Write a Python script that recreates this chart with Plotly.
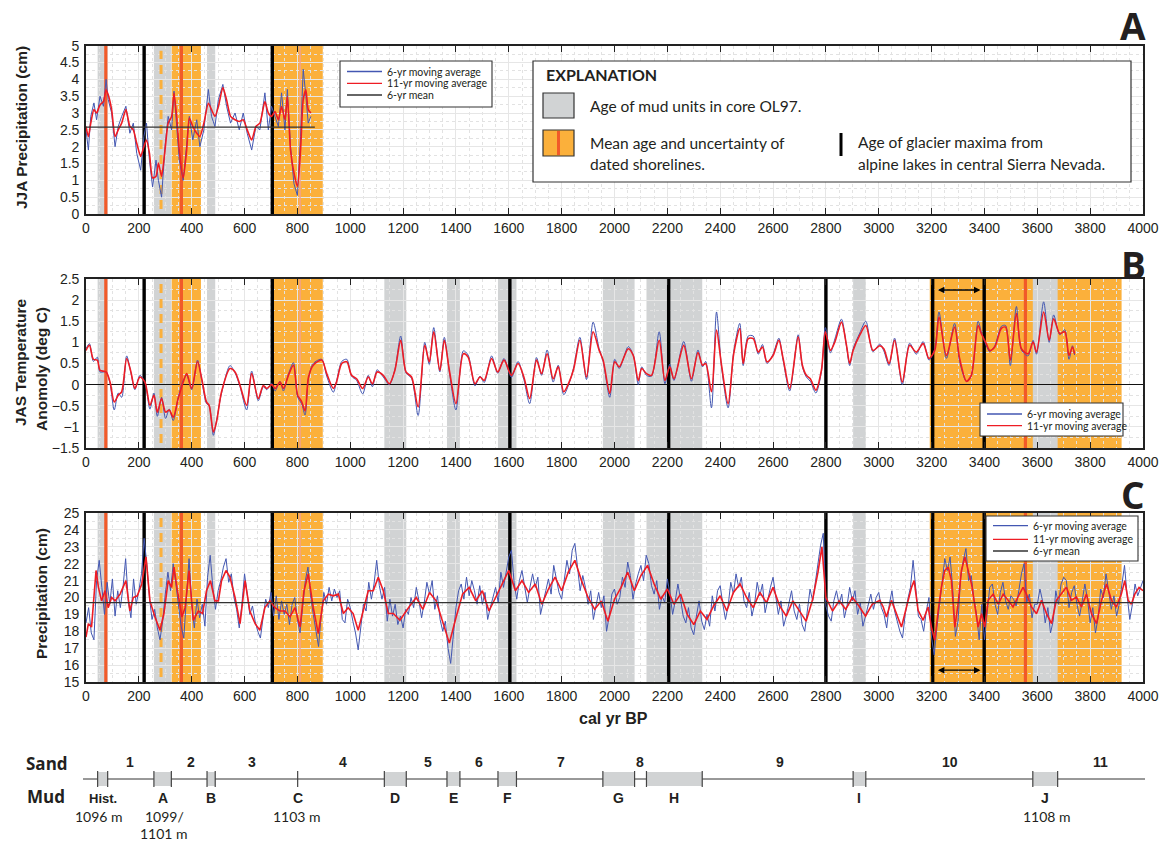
import plotly.graph_objects as go

# ---------------- DATA ----------------
# Panel A: JJA precipitation (cm)
years_A = [0, 9, 18, 30, 40, 53, 66, 76, 84, 97,
           110, 122, 135, 151, 166, 179, 192, 207, 219, 229,
           240, 252, 265, 274, 286, 299, 311, 324, 333, 343,
           353, 368, 381, 391, 404, 419, 431, 446, 463, 475,
           488, 501, 518, 532, 547, 564, 580, 595, 610, 627,
           643, 658, 677, 690, 702, 715, 728, 740, 753, 762,
           774, 787, 800, 812, 822, 832, 841, 851]
jja_6yr = [2.5, 1.9, 2.9, 3.3, 2.8, 3.5, 3.2, 4.0, 3.4, 3.0,
           2.0, 2.6, 2.9, 3.2, 2.4, 2.7, 1.8, 1.3, 2.3, 2.7,
           1.6, 0.8, 1.6, 1.0, 0.5, 2.0, 2.9, 2.5, 3.65, 2.6,
           1.6, 1.0, 2.2, 2.9, 2.2, 2.8, 2.0, 2.5, 3.7, 2.9,
           2.6, 3.4, 3.85, 3.2, 2.7, 3.0, 2.5, 3.0, 2.4, 1.9,
           2.6, 2.5, 3.6, 2.5, 3.2, 2.9, 2.6, 3.6, 2.5, 3.7,
           2.0, 0.9, 0.55, 2.3, 4.3, 3.5, 2.7, 2.9]
jja_11yr = [2.6, 2.3, 2.7, 3.1, 3.0, 3.24, 3.34, 3.69, 3.54, 3.1,
            2.3, 2.5, 2.7, 3.1, 2.6, 2.5, 2.1, 1.71, 2.0, 2.2,
            1.81, 1.07, 1.12, 1.51, 1.12, 1.9, 2.7, 2.9, 3.59, 2.9,
            1.9, 1.07, 1.9, 2.85, 2.6, 2.4, 2.3, 2.7, 3.29, 3.1,
            2.9, 3.19, 3.76, 3.39, 2.9, 2.8, 2.75, 2.8, 2.5, 2.2,
            2.6, 2.7, 3.34, 3.0, 2.9, 3.04, 2.8, 3.19, 2.8, 3.49,
            1.9, 1.22, 0.82, 1.9, 3.39, 3.69, 3.1, 3.0]
jja_mean = 2.58
jja_mean_span = [0, 866]
jja_range = [0, 5]

# Panel B: JAS temperature anomaly (deg C)
years_B = [0, 13, 28, 43, 53, 76, 91, 107, 122, 135,
           154, 170, 185, 204, 223, 242, 257, 270, 286, 301,
           315, 330, 349, 368, 381, 400, 422, 438, 456, 466,
           482, 494, 513, 545, 564, 583, 608, 627, 652, 671,
           684, 703, 716, 734, 747, 766, 785, 801, 816, 829,
           842, 860, 892, 911, 936, 948, 968, 987, 1005, 1024,
           1047, 1068, 1084, 1102, 1125, 1148, 1169, 1191, 1211, 1232,
           1257, 1282, 1299, 1316, 1339, 1356, 1375, 1400, 1428, 1446,
           1472, 1491, 1507, 1535, 1558, 1582, 1610, 1635, 1657, 1679,
           1705, 1724, 1745, 1768, 1787, 1808, 1831, 1846, 1869, 1894,
           1919, 1942, 1957, 1982, 2001, 2018, 2052, 2071, 2090, 2103,
           2121, 2140, 2169, 2191, 2209, 2225, 2262, 2291, 2316, 2333,
           2345, 2367, 2386, 2405, 2430, 2451, 2474, 2487, 2506, 2525,
           2544, 2560, 2577, 2600, 2622, 2638, 2663, 2695, 2711, 2726,
           2741, 2762, 2783, 2798, 2817, 2834, 2859, 2878, 2890, 2903,
           2928, 2951, 2978, 3004, 3019, 3039, 3060, 3089, 3117, 3142,
           3168, 3190, 3212, 3228, 3256, 3287, 3306, 3332, 3350, 3376,
           3388, 3407, 3420, 3439, 3464, 3480, 3498, 3521, 3540, 3565,
           3584, 3597, 3624, 3645, 3662, 3685, 3704, 3720, 3733, 3741]
jas_6yr = [0.85, 0.97, 0.55, 0.65, 0.3, 0.3, 0.02, -0.6, -0.2, -0.3,
           0.68, 0.28, -0.12, 0.22, 0.05, -0.58, -0.2, -0.75, -0.3, -0.8,
           -0.58, -0.85, -0.3, 0.1, 0.22, -0.12, 0.58, 0.1, -0.45, -0.5,
           -1.2, -0.85, -0.2, 0.45, 0.28, -0.05, -0.6, 0.32, -0.38, -0.05,
           -0.12, 0.03, -0.15, 0.08, -0.15, 0.25, 0.52, -0.3, -0.45, -0.72,
           0.15, 0.5, 0.6, 0.2, -0.18, 0.08, 0.55, 0.6, 0.2, 0.1,
           -0.22, 0.22, -0.05, 0.35, 0.18, 0.0, 0.36, 1.15, 0.28, 0.15,
           -0.73, 1.0, 0.48, 1.35, 0.3, 1.12, 0.3, -0.6, 0.8, 0.7,
           -0.03, 0.2, 0.05, 0.68, 0.27, 0.62, 0.17, 0.55, 0.12, -0.45,
           0.64, 0.22, 0.82, 0.06, 0.46, -0.24, 0.08, 0.42, 1.12, 0.12,
           1.48, 0.85, 0.55, -0.3, 0.6, 0.38, 0.9, 0.7, 0.0, 0.42,
           0.22, 0.2, 1.25, 0.02, 0.48, 0.1, 1.02, 0.08, 0.82, 0.42,
           0.55, -0.55, 1.72, 0.42, -0.55, 0.78, 1.45, 0.45, 1.15, 1.15,
           0.72, 0.95, 0.5, 0.72, 1.1, 0.58, -0.15, 1.18, 0.42, 0.18,
           0.08, -0.2, 0.3, 1.35, 0.75, 1.08, 1.55, 0.9, 0.45, 0.85,
           1.22, 1.5, 0.78, 0.96, 0.8, 0.45, 1.1, 0.0, 0.98, 0.72,
           1.02, 0.58, 0.85, 1.72, 0.62, 1.45, 0.55, 0.07, 0.2, 1.5,
           1.25, 0.92, 0.78, 0.92, 1.38, 1.4, 0.45, 1.85, 0.82, 0.68,
           1.05, 0.72, 1.96, 1.0, 1.65, 1.18, 1.3, 0.6, 0.92, 0.7]
jas_11yr = [0.81, 0.93, 0.6, 0.58, 0.34, 0.3, 0.06, -0.41, -0.25, -0.17,
            0.62, 0.3, -0.09, 0.18, 0.06, -0.49, -0.25, -0.65, -0.33, -0.65,
            -0.6, -0.77, -0.33, 0.06, 0.26, -0.09, 0.54, 0.14, -0.41, -0.49,
            -1.12, -0.88, -0.17, 0.38, 0.3, -0.02, -0.49, 0.26, -0.33, -0.02,
            -0.09, 0.0, -0.09, 0.06, -0.09, 0.22, 0.46, -0.25, -0.4, -0.62,
            0.18, 0.46, 0.58, 0.26, -0.09, 0.06, 0.5, 0.54, 0.22, 0.14,
            -0.09, 0.18, 0.02, 0.3, 0.22, 0.02, 0.34, 1.05, 0.3, 0.18,
            -0.53, 0.93, 0.54, 1.25, 0.34, 1.05, 0.34, -0.45, 0.73, 0.65,
            0.02, 0.18, 0.1, 0.62, 0.3, 0.58, 0.22, 0.5, 0.18, -0.33,
            0.58, 0.26, 0.73, 0.14, 0.42, -0.17, 0.1, 0.38, 1.05, 0.18,
            1.25, 0.81, 0.58, -0.21, 0.54, 0.42, 0.85, 0.69, 0.1, 0.38,
            0.26, 0.22, 1.05, 0.1, 0.42, 0.14, 0.93, 0.14, 0.76, 0.46,
            0.5, -0.17, 1.29, 0.46, -0.45, 0.73, 1.33, 0.5, 1.09, 1.09,
            0.77, 0.89, 0.54, 0.69, 1.05, 0.62, -0.09, 1.13, 0.46, 0.22,
            0.14, -0.13, 0.34, 1.25, 0.81, 1.01, 1.48, 0.93, 0.5, 0.81,
            1.17, 1.4, 0.81, 0.92, 0.85, 0.5, 1.05, 0.06, 0.93, 0.77,
            0.97, 0.62, 0.81, 1.6, 0.69, 1.36, 0.62, 0.08, 0.22, 1.4,
            1.21, 0.97, 0.81, 0.89, 1.33, 1.36, 0.58, 1.68, 0.85, 0.73,
            1.01, 0.77, 1.72, 1.05, 1.56, 1.21, 1.25, 0.69, 0.89, 0.73]
jas_range = [-1.5, 2.5]

# Panel C: precipitation (cm) - 6-yr moving average, read every 10 years
years_C6 = list(range(0, 4001, 10))
precip_6yr = [18.5, 19.4, 17.9, 17.5, 21.0, 22.2, 20.6, 19.0, 20.9, 19.6, 21.1, 18.9, 20.4, 19.4, 20.6, 22.3, 19.8, 18.8, 21.1, 19.6,
              20.4, 21.4, 23.5, 22.0, 20.0, 18.7, 19.3, 18.2, 17.5, 18.6, 20.2, 21.5, 20.4, 22.0, 20.8, 19.6, 18.3, 17.6, 20.3, 22.3,
              19.6, 18.2, 19.9, 18.8, 19.6, 18.3, 21.2, 22.5, 20.6, 19.3, 20.4, 21.0, 21.8, 22.3, 20.9, 21.4, 20.0, 19.3, 18.2, 19.6,
              21.4, 20.2, 19.0, 19.5, 18.6, 18.0, 17.6, 18.8, 19.9, 19.4, 20.3, 18.9, 20.1, 18.7, 19.8, 19.0, 19.6, 18.4, 19.6, 20.0,
              18.7, 17.9, 19.6, 21.0, 21.8, 20.1, 19.0, 18.0, 17.1, 18.9, 20.3, 19.6, 20.6, 19.8, 20.5, 20.0, 20.4, 18.7, 18.5, 19.9,
              19.4, 18.6, 17.9, 16.9, 18.4, 19.6, 19.2, 20.9, 19.9, 20.8, 22.2, 20.7, 19.9, 20.6, 18.6, 19.9, 18.9, 19.6, 18.4, 18.9,
              18.2, 19.3, 19.0, 20.0, 19.4, 20.6, 19.8, 18.8, 19.7, 20.9, 20.2, 21.0, 19.3, 20.1, 18.7, 18.0, 18.6, 17.0, 16.1, 17.8,
              19.4, 20.4, 20.8, 19.9, 21.2, 20.1, 21.0, 20.4, 19.6, 20.7, 19.6, 20.3, 18.7, 19.4, 20.1, 20.6, 19.7, 21.5, 20.6, 21.6,
              22.4, 22.8, 20.9, 19.9, 21.0, 21.6, 20.5, 19.7, 20.6, 21.4, 20.6, 21.2, 19.0, 19.8, 20.4, 21.1, 20.2, 21.9, 21.0, 20.3,
              19.9, 21.0, 22.2, 21.4, 22.8, 23.2, 21.6, 20.4, 21.3, 20.6, 19.6, 20.4, 18.7, 19.6, 20.3, 19.4, 20.1, 18.0, 18.9, 20.2,
              20.5, 19.6, 20.0, 21.2, 20.6, 22.1, 21.3, 19.9, 20.8, 21.4, 21.9, 21.0, 22.5, 22.0, 20.7, 20.2, 21.0, 19.3, 20.1, 19.7,
              21.1, 20.2, 19.0, 19.8, 20.8, 19.9, 18.9, 18.5, 19.4, 18.2, 17.8, 18.9, 19.8, 18.6, 18.1, 19.0, 18.3, 20.1, 19.2, 20.4,
              20.7, 19.6, 18.7, 19.5, 20.9, 20.2, 21.4, 20.6, 21.2, 19.8, 19.4, 20.3, 18.9, 19.6, 20.9, 20.1, 20.8, 19.1, 19.9, 20.6,
              21.2, 20.1, 19.0, 19.8, 18.3, 18.9, 19.7, 20.4, 19.2, 18.7, 19.6, 18.4, 18.0, 19.1, 20.5, 19.8, 21.0, 22.0, 23.1, 23.8,
              19.5, 18.9, 18.6, 19.8, 20.4, 19.6, 20.2, 18.8, 19.5, 20.6, 19.8, 20.4, 19.0, 19.7, 18.3, 18.9, 19.6, 20.2, 19.3, 20.0,
              20.3, 19.4, 19.0, 18.2, 19.6, 20.4, 19.2, 18.6, 18.0, 17.6, 19.0, 19.9, 20.6, 22.2, 20.4, 18.9, 18.7, 18.0, 19.2, 20.0,
              17.6, 16.6, 18.2, 19.7, 21.2, 22.3, 21.6, 22.4, 20.5, 17.7, 18.6, 21.2, 22.2, 22.9, 21.0, 21.3, 19.9, 19.0, 17.5, 19.6,
              17.5, 19.2, 20.6, 20.8, 19.6, 19.0, 20.3, 20.9, 19.8, 19.3, 20.1, 19.9, 19.5, 20.4, 21.4, 22.0, 19.7, 20.2, 18.8, 19.6,
              19.6, 20.5, 19.8, 18.5, 19.4, 17.9, 18.6, 20.4, 19.6, 20.8, 21.2, 21.0, 19.4, 20.3, 20.7, 19.6, 18.9, 19.8, 20.8, 19.9,
              18.5, 19.4, 17.9, 18.8, 20.5, 20.0, 21.4, 20.4, 19.3, 20.1, 18.9, 19.6, 20.8, 21.9, 20.1, 18.7, 19.6, 20.8, 20.1, 20.6,
              21.0]

# Panel C: 11-yr moving average
years_C11 = [0, 9, 21, 38, 47, 59, 72, 84, 97, 110,
             129, 151, 166, 179, 194, 211, 227, 242, 261, 280,
             295, 311, 324, 333, 346, 363, 375, 390, 406, 425,
             441, 456, 471, 488, 501, 513, 530, 545, 564, 583,
             602, 620, 640, 658, 677, 696, 715, 734, 753, 772,
             791, 810, 825, 841, 860, 879, 898, 917, 936, 955,
             974, 992, 1011, 1030, 1049, 1068, 1087, 1106, 1125, 1144,
             1163, 1188,
             1225, 1250, 1275, 1300, 1325, 1350, 1375, 1400, 1425, 1450,
             1475, 1500, 1525, 1550, 1575, 1600, 1625, 1650, 1675, 1700,
             1725, 1750, 1775, 1800, 1825, 1850, 1875, 1900, 1925, 1950,
             1975, 2000, 2025, 2050, 2075, 2100, 2125, 2150, 2175, 2200,
             2225, 2250, 2275, 2300, 2325, 2350, 2375, 2400, 2425, 2450,
             2475, 2500, 2525, 2550, 2575, 2600, 2625, 2650, 2675, 2700,
             2725, 2750, 2770, 2785, 2800, 2825, 2850, 2875, 2900, 2925,
             2950, 2975,
             3004, 3017, 3029, 3048, 3067, 3086, 3105, 3124, 3134, 3149,
             3168, 3187, 3199, 3212, 3225, 3237, 3250, 3263, 3275, 3288,
             3300, 3313, 3326, 3338, 3351, 3363, 3376, 3389, 3401, 3414,
             3433, 3452, 3471, 3490, 3508, 3527, 3546, 3559, 3578, 3597,
             3616, 3635, 3654, 3672, 3691, 3710, 3729, 3748, 3767, 3786,
             3805, 3824, 3843, 3862, 3881, 3899, 3918, 3931, 3944, 3956,
             3969, 3985, 4000]
precip_11yr = [17.66, 18.45, 18.25, 21.6, 20.6, 19.8, 20.4, 19.4, 20.0, 19.8,
               20.2, 21.0, 19.2, 20.0, 20.1, 20.8, 22.4, 19.8, 18.85, 18.06,
               19.05, 21.0, 20.6, 21.8, 20.4, 18.85, 19.4, 21.6, 18.65, 19.2,
               19.05, 20.4, 21.0, 19.8, 19.8, 21.0, 21.6, 21.2, 20.0, 18.45,
               21.0, 19.2, 18.45, 18.06, 19.4, 19.8, 19.4, 19.2, 19.2, 18.85,
               19.4, 18.25, 20.4, 21.4, 19.4, 17.86, 19.8, 20.2, 20.1, 20.2,
               19.05, 19.4, 19.05, 18.06, 19.2, 20.4, 20.4, 21.2, 20.4, 19.05,
               19.05, 18.65,
               19.5, 20.0, 19.3, 20.3, 19.8, 18.6, 17.3, 18.8, 20.2, 20.6,
               19.8, 20.4, 19.2, 20.0, 20.8, 21.6, 20.4, 21.0, 20.3, 20.8,
               19.6, 20.5, 21.2, 20.4, 21.5, 22.2, 21.0, 20.0, 19.3, 19.8,
               18.6, 19.9, 20.6, 21.5, 20.4, 21.3, 21.9, 20.8, 19.9, 20.5,
               19.6, 20.2, 19.0, 18.4, 19.2, 18.7, 19.5, 20.1, 19.2, 20.3,
               20.8, 20.0, 19.4, 20.3, 19.7, 20.6, 19.5, 18.9, 19.8, 19.2,
               18.6, 19.9, 21.5, 23.0, 20.0, 19.2, 19.8, 19.3, 20.0, 19.5,
               18.9, 19.6,
               19.83, 19.44, 18.85, 19.83, 19.04, 18.25, 19.44, 20.6, 21.0, 19.24,
               18.65, 19.44, 18.25, 17.47, 19.24, 20.6, 21.6, 21.8, 21.0, 18.25,
               19.6, 21.6, 22.4, 21.6, 20.8, 19.6, 18.25, 19.04, 18.25, 19.83,
               20.2, 19.6, 20.2, 19.83, 19.44, 20.03, 20.6, 20.2, 19.44, 19.04,
               19.83, 19.04, 18.45, 19.83, 20.2, 20.6, 19.83, 20.03, 19.44, 20.2,
               19.04, 18.45, 19.83, 20.8, 19.83, 19.44, 20.2, 21.0, 19.83, 19.6,
               20.2, 20.6, 20.4]
precip_mean = 19.7
precip_mean_span = [0, 4000]
precip_range = [15, 25]

# Event ages (cal yr BP)
mud_units = ["Hist.", "A", "B", "D", "E", "F", "G", "H", "I", "J"]
mud_start = [44, 257, 458, 1129, 1366, 1559, 1956, 2121, 2903, 3583]
mud_end = [82, 323, 489, 1212, 1415, 1629, 2076, 2332, 2951, 3677]
mud_C_age = 801
shore_lo = [324, 711, 3193]
shore_hi = [435, 896, 3919]
shore_mean = [75, 361, 3555]
shore_mean_faint = [810]
shore_dashed = [284]
glacier_max = [220, 705, 1604, 2205, 2800, 3204, 3399]
panelA_limit = 900

sand_units = ["1", "2", "3", "4", "5", "6", "7", "8", "9", "10", "11"]
sand_label_px = [130, 191, 252, 343, 428, 479, 561, 640, 780, 950, 1100]

legend_labels = ["6-yr moving average", "11-yr moving average", "6-yr mean"]

# ---------------- STYLE / LAYOUT ----------------
W, H = 1165, 841
def PX(v): return v / W
def PY(v): return 1 - v / H

BLUE = "#4357b2"
RED = "#ee1c24"
MEANC = "#333333"
ORANGE = "#fbb03b"
GRAY = "#d1d3d4"
SHORE = "#f15a29"
TXT = "#231f20"
XD = [PX(86), PX(1143)]
dom = {"A": [PY(214), PY(45.7)], "B": [PY(448), PY(279)], "C": [PY(682), PY(513)]}
tickfont = dict(family="Liberation Sans, Arial", size=14, color=TXT)

fig = go.Figure()

# event lines as traces (drawn above the grid, beneath the data)
panels = [("x", "y", jja_range, False), ("x2", "y2", jas_range, True), ("x3", "y3", precip_range, True)]

def vlines(xs, rng, xa, ya, color, width, dash=None, inset=0.0):
    xx, yy = [], []
    pad = (rng[1] - rng[0]) * inset
    for v in xs:
        xx += [v, v, None]
        yy += [rng[0] + pad, rng[1] - pad, None]
    if xx:
        fig.add_trace(go.Scatter(x=xx, y=yy, mode="lines", hoverinfo="skip", showlegend=False,
                                 line=dict(color=color, width=width, dash=dash), xaxis=xa, yaxis=ya))

for xa, ya, rng, full in panels:
    sel = lambda arr: [v for v in arr if full or v < panelA_limit]
    vlines(sel(shore_mean), rng, xa, ya, SHORE, 3.2)
    vlines(sel(shore_mean_faint), rng, xa, ya, "#f3a18c", 1.5)
    vlines(sel(shore_dashed), rng, xa, ya, ORANGE, 3, dash="9px,6px", inset=0.03)
    vlines(sel(glacier_max), rng, xa, ya, "black", 3.4)

# data traces
fig.add_trace(go.Scatter(x=years_A, y=jja_6yr, mode="lines", name=legend_labels[0],
                         line=dict(color=BLUE, width=1), xaxis="x", yaxis="y"))
fig.add_trace(go.Scatter(x=years_A, y=jja_11yr, mode="lines", name=legend_labels[1],
                         line=dict(color=RED, width=1.6, shape="spline", smoothing=0.6), xaxis="x", yaxis="y"))
fig.add_trace(go.Scatter(x=jja_mean_span, y=[jja_mean, jja_mean], mode="lines", name=legend_labels[2],
                         line=dict(color=MEANC, width=1.2), xaxis="x", yaxis="y"))

fig.add_trace(go.Scatter(x=years_B, y=jas_6yr, mode="lines", name=legend_labels[0],
                         line=dict(color=BLUE, width=1, shape="spline", smoothing=0.8),
                         xaxis="x2", yaxis="y2"))
fig.add_trace(go.Scatter(x=years_B, y=jas_11yr, mode="lines", name=legend_labels[1],
                         line=dict(color=RED, width=1.6, shape="spline", smoothing=0.8),
                         xaxis="x2", yaxis="y2"))

fig.add_trace(go.Scatter(x=years_C6, y=precip_6yr, mode="lines", name=legend_labels[0],
                         line=dict(color=BLUE, width=1), xaxis="x3", yaxis="y3"))
fig.add_trace(go.Scatter(x=years_C11, y=precip_11yr, mode="lines", name=legend_labels[1],
                         line=dict(color=RED, width=1.6), xaxis="x3", yaxis="y3"))
fig.add_trace(go.Scatter(x=precip_mean_span, y=[precip_mean, precip_mean], mode="lines", name=legend_labels[2],
                         line=dict(color=MEANC, width=1.2), xaxis="x3", yaxis="y3"))

# shapes: bands (below grid)
shapes = []
for xr, yr, full in [("x", "y domain", False), ("x2", "y2 domain", True), ("x3", "y3 domain", True)]:
    def keep(v):
        return full or v < panelA_limit
    for a, b in zip(shore_lo, shore_hi):
        if keep(a):
            shapes.append(dict(type="rect", xref=xr, yref=yr, x0=a, x1=b, y0=0, y1=1,
                               fillcolor=ORANGE, line=dict(width=0), layer="below"))
    for a, b in zip(mud_start, mud_end):
        if keep(a):
            shapes.append(dict(type="rect", xref=xr, yref=yr, x0=a, x1=b, y0=0, y1=1,
                               fillcolor=GRAY, line=dict(width=0), layer="below"))

# ---- sand / mud strip ----
strip_y = 779
shapes.append(dict(type="line", xref="paper", yref="paper", x0=PX(83), x1=PX(1145),
                   y0=PY(strip_y), y1=PY(strip_y), line=dict(color="#333", width=1)))
for a, b in zip(mud_start, mud_end):
    shapes.append(dict(type="rect", xref="x3", yref="paper", x0=a, x1=b, y0=PY(strip_y + 7),
                       y1=PY(strip_y - 7), fillcolor=GRAY, line=dict(width=0)))
    for e in (a, b):
        shapes.append(dict(type="line", xref="x3", yref="paper", x0=e, x1=e, y0=PY(strip_y + 8),
                           y1=PY(strip_y - 8), line=dict(color="#444", width=1.2)))
shapes.append(dict(type="line", xref="x3", yref="paper", x0=mud_C_age, x1=mud_C_age,
                   y0=PY(strip_y + 8), y1=PY(strip_y - 8), line=dict(color="#444", width=1.2)))

# ---- explanation box ----
shapes.append(dict(type="rect", xref="paper", yref="paper", x0=PX(533), x1=PX(1131), y0=PY(182), y1=PY(61),
                   fillcolor="white", line=dict(color="#333", width=1.2)))
shapes.append(dict(type="rect", xref="paper", yref="paper", x0=PX(543), x1=PX(574), y0=PY(118), y1=PY(93),
                   fillcolor=GRAY, line=dict(color="#333", width=1.2)))
shapes.append(dict(type="rect", xref="paper", yref="paper", x0=PX(543), x1=PX(574), y0=PY(156), y1=PY(130),
                   fillcolor=ORANGE, line=dict(color="#333", width=1.2)))
shapes.append(dict(type="line", xref="paper", yref="paper", x0=PX(558.5), x1=PX(558.5), y0=PY(155), y1=PY(131),
                   line=dict(color=SHORE, width=3)))
shapes.append(dict(type="line", xref="paper", yref="paper", x0=PX(841), x1=PX(841), y0=PY(156), y1=PY(133),
                   line=dict(color="black", width=3)))

annotations = []
def txt(x, y, s, size=14, bold=False, family="Lato", anchor="center", angle=0, color=TXT):
    annotations.append(dict(xref="paper", yref="paper", x=PX(x), y=PY(y), text=f"<b>{s}</b>" if bold else s,
                            showarrow=False, xanchor=anchor, yanchor="middle", textangle=angle,
                            font=dict(family=family, size=size, color=color)))

# ---- manual legends (box, line samples, labels) ----
def legend_box(x0, y0, x1, y1, lx0, lx1, tx, ys, n):
    shapes.append(dict(type="rect", xref="paper", yref="paper", x0=PX(x0), x1=PX(x1), y0=PY(y1), y1=PY(y0),
                       fillcolor="white", line=dict(color="#333", width=1.1)))
    cols = [BLUE, RED, MEANC]
    for i in range(n):
        shapes.append(dict(type="line", xref="paper", yref="paper", x0=PX(lx0), x1=PX(lx1),
                           y0=PY(ys[i]), y1=PY(ys[i]), line=dict(color=cols[i], width=1.3)))
        txt(tx, ys[i], legend_labels[i], size=10.5, family="Lato", anchor="left")

legend_box(340, 61, 492, 107, 347, 382, 385, [71.5, 83.3, 95], 3)
legend_box(980, 403, 1123, 436, 987, 1022, 1025, [414, 425.7], 2)
legend_box(986, 516, 1138, 561, 993, 1028, 1031, [525.7, 539.3, 551], 3)

txt(544, 75, "EXPLANATION", size=16, bold=True, family="Lato", anchor="left")
txt(588, 106, "Age of mud units in core OL97.", size=15.5, anchor="left")
txt(588, 143, "Mean age and uncertainty of", size=15.5, anchor="left")
txt(588, 164, "dated shorelines.", size=15.5, anchor="left")
txt(856, 142, "Age of glacier maxima from", size=15.5, anchor="left")
txt(856, 164, "alpine lakes in central Sierra Nevada.", size=15.5, anchor="left")

# panel letters
for lab, yy in [("A", 26), ("B", 264), ("C", 494)]:
    txt(1133, yy, lab, size=37, bold=True, family="Open Sans")

# axis titles
txt(22, 128, "JJA Precipitation (cm)", size=15.5, bold=True, family="Liberation Sans", angle=-90)
txt(20, 362, "JAS Temperature", size=15.5, bold=True, family="Liberation Sans", angle=-90)
txt(41, 369, "Anomoly (deg C)", size=15.5, bold=True, family="Liberation Sans", angle=-90)
txt(41, 594, "Precipitation (cm)", size=15.5, bold=True, family="Liberation Sans", angle=-90)
txt(614, 718, "cal yr BP", size=16, bold=True, family="Liberation Sans")

# sand/mud strip labels
txt(47, 763, "Sand", size=17, bold=True, family="Open Sans")
txt(46, 796, "Mud", size=17, bold=True, family="Open Sans")
for s, xp in zip(sand_units, sand_label_px):
    txt(xp, 762, s, size=14, bold=True, family="Liberation Sans")
for s, a, b in zip(mud_units, mud_start, mud_end):
    annotations.append(dict(xref="x3", yref="paper", x=(a + b) / 2, y=PY(798), text=f"<b>{s}</b>",
                            showarrow=False, yanchor="middle",
                            font=dict(family="Liberation Sans", size=14 if s != "Hist." else 13, color=TXT)))
annotations.append(dict(xref="x3", yref="paper", x=mud_C_age, y=PY(798), text="<b>C</b>", showarrow=False,
                        yanchor="middle", font=dict(family="Liberation Sans", size=14, color=TXT)))
txt(99, 816, "1096 m", size=14)
txt(164, 816, "1099/", size=14)
txt(164, 833, "1101 m", size=14)
txt(297, 816, "1103 m", size=14)
txt(1047, 816, "1108 m", size=14)

# double arrows between glacier maxima (B and C)
for xr, yr, yv in [("x2", "y2", 2.24), ("x3", "y3", 15.7)]:
    annotations.append(dict(xref=xr, yref=yr, axref=xr, ayref=yr, x=glacier_max[6] - 14, y=yv,
                            ax=glacier_max[5] + 14, ay=yv, showarrow=True, arrowhead=2, arrowside="end+start",
                            arrowsize=1, arrowwidth=1.3, arrowcolor="black", text=""))

def xaxis(anchor):
    return dict(domain=XD, range=[0, 4000], anchor=anchor, tick0=0, dtick=200, ticks="inside",
                ticklen=6, tickwidth=1.2, tickcolor="#222", mirror="allticks", showline=True,
                linecolor="#222", linewidth=1.6, showgrid=True, gridcolor="#e6e6e6", gridwidth=1,
                zeroline=False, tickfont=tickfont, automargin=False,
                minor=dict(dtick=50, showgrid=True, gridcolor="#e2e2e2", griddash="dot", gridwidth=0.7))

def yaxis(anchor, d, rng, dt, mdt):
    return dict(domain=d, range=rng, anchor=anchor, dtick=dt, tick0=0, ticks="", showline=True,
                mirror=True, linecolor="#222", linewidth=1.6, showgrid=True, gridcolor="#e6e6e6",
                gridwidth=1, zeroline=False, tickfont=tickfont, ticklabelstandoff=2, automargin=False,
                minor=dict(dtick=mdt, showgrid=True, gridcolor="#e2e2e2", griddash="dot", gridwidth=0.7))

yax2 = yaxis("x2", dom["B"], jas_range, 0.5, 0.25)
yax2.update(zeroline=True, zerolinecolor="#111", zerolinewidth=1.2)

fig.update_layout(
    width=W, height=H, margin=dict(l=0, r=0, t=0, b=0, autoexpand=False),
    paper_bgcolor="white", plot_bgcolor="white",
    xaxis=xaxis("y"), yaxis=yaxis("x", dom["A"], jja_range, 0.5, 0.25),
    xaxis2=xaxis("y2"), yaxis2=yax2,
    xaxis3=xaxis("y3"), yaxis3=yaxis("x3", dom["C"], precip_range, 1, 0.5),
    shapes=shapes, annotations=annotations, showlegend=False,
)

fig.write_html("out.html", config={"displayModeBar": False},
               post_script="document.body.style.margin='0px';")
